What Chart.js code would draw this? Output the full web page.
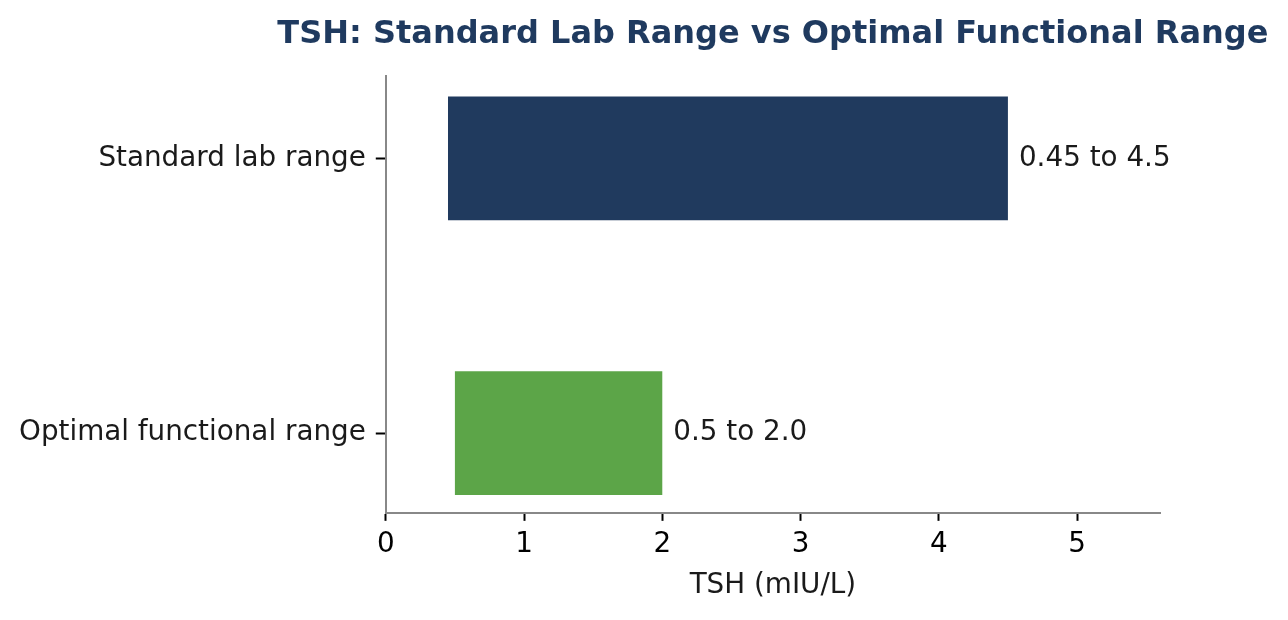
<!DOCTYPE html>
<html>
<head>
<meta charset="utf-8">
<script src="https://cdn.jsdelivr.net/npm/chart.js@4/dist/chart.umd.min.js"></script>
<style>
  body { margin: 0; background: #fff; }
  canvas { display: block; }
</style>
</head>
<body>
<canvas id="tshChart" width="1288" height="620"></canvas>
<script>
const categories = ['Optimal functional range', 'Standard lab range'];
const rangeLow = [0.5, 0.45];
const rangeHigh = [2.0, 4.5];
const rangeLabels = ['0.5 to 2.0', '0.45 to 4.5'];
const barColors = ['#5ca548', '#203a5e'];
const xTicks = [0, 1, 2, 3, 4, 5];

const FONT = "'DejaVu Sans', sans-serif";

// bar end labels + title centred over the plot area
const labelPlugin = {
    id: 'rangeLabels',
    afterDatasetsDraw(chart) {
        const ctx = chart.ctx;
        const meta = chart.getDatasetMeta(0);
        ctx.save();
        ctx.font = '27.8px ' + FONT;
        ctx.fillStyle = '#1a1a1a';
        ctx.textBaseline = 'middle';
        meta.data.forEach((bar, i) => {
            ctx.fillText(rangeLabels[i], bar.x + 11, bar.y);
        });
        const area = chart.chartArea;
        ctx.font = 'bold 32px ' + FONT;
        ctx.fillStyle = '#1f3a5f';
        ctx.textAlign = 'center';
        ctx.fillText('TSH: Standard Lab Range vs Optimal Functional Range', (area.left + area.right) / 2, 35);
        ctx.restore();
    }
};

const tshCtx = document.getElementById('tshChart').getContext('2d');
const tshChart = new Chart(tshCtx, {
    type: 'bar',
    data: {
        datasets: [{
            data: categories.map((c, i) => ({ x: [rangeLow[i], rangeHigh[i]], y: i })),
            backgroundColor: barColors,
            barPercentage: 0.45,
            categoryPercentage: 1.0
        }]
    },
    options: {
        responsive: false,
        animation: false,
        indexAxis: 'y',
        layout: { padding: { top: 76, right: 128, left: 9, bottom: 14 } },
        plugins: { legend: { display: false }, tooltip: { enabled: false } },
        scales: {
            x: {
                type: 'linear',
                min: 0,
                max: 5.6,
                afterBuildTicks: axis => { axis.ticks = xTicks.map(v => ({ value: v })); },
                ticks: { color: '#000', font: { family: FONT, size: 27.8, lineHeight: 1 }, padding: 10 },
                grid: { drawOnChartArea: false, tickLength: 8, tickColor: '#000', tickWidth: 2 },
                border: { color: '#888', width: 2 },
                title: { display: true, text: 'TSH (mIU/L)', color: '#1a1a1a', font: { family: FONT, size: 27.8 }, padding: { top: 0, bottom: 4 } }
            },
            y: {
                type: 'linear',
                min: -0.29,
                max: 1.3,
                offset: false,
                afterBuildTicks: axis => { axis.ticks = categories.map((c, i) => ({ value: i })); },
                ticks: {
                    color: '#1a1a1a',
                    font: { family: FONT, size: 27.8 },
                    padding: 10,
                    callback: v => categories[v]
                },
                grid: { offset: false, drawOnChartArea: false, tickLength: 10, tickColor: '#000', tickWidth: 2 },
                border: { color: '#888', width: 2 }
            }
        }
    },
    plugins: [labelPlugin]
});
</script>
</body>
</html>
